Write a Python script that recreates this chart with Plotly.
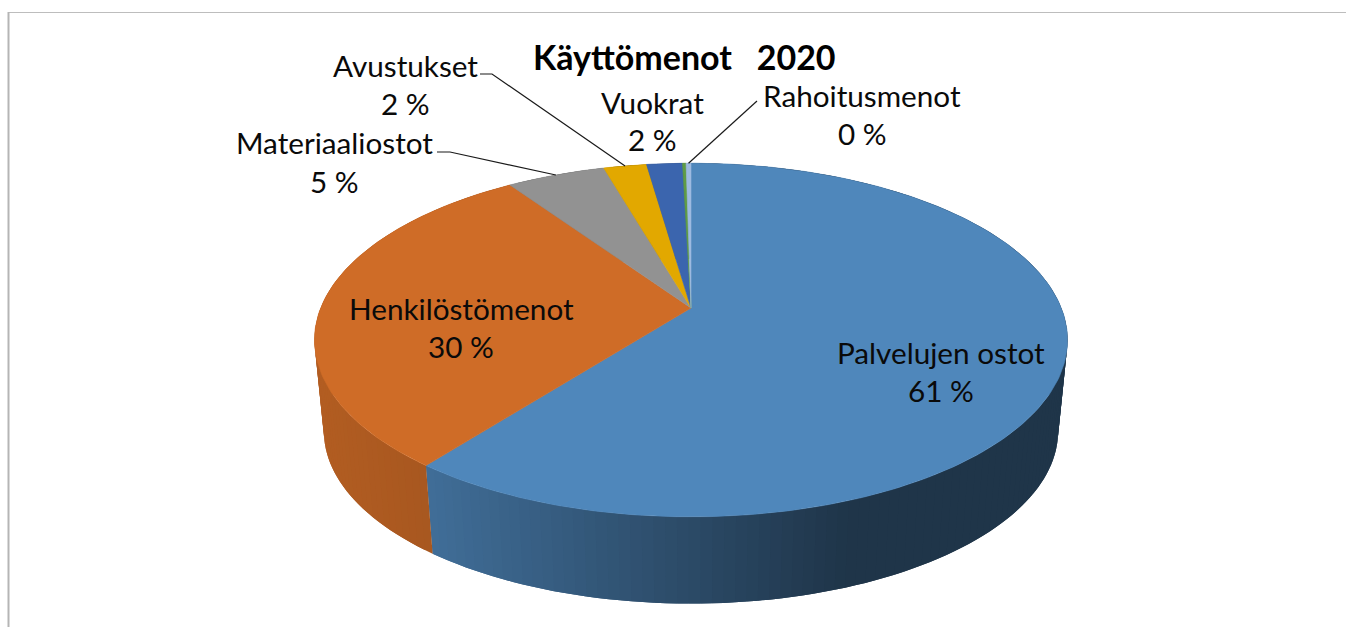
import math
import plotly.graph_objects as go

# ---- data ----
categories = ["Palvelujen ostot", "Henkilöstömenot", "Materiaaliostot", "Avustukset", "Vuokrat", "Muut", "Rahoitusmenot"]
values = [60.51, 29.99, 5.04, 2.2, 1.83, 0.18, 0.25]
colors = ["#4f87bb", "#cf6c27", "#929292", "#e2a800", "#3b65ae", "#5f9c45", "#9dbbe0"]
title_text = "Käyttömenot\u00a0\u00a0\u00a02020"

# ---- label placement: category -> (x, y of name line, y of percent line) ----
label_pos = {
    "Palvelujen ostot": (941, 352, 390),
    "Henkilöstömenot": (461, 308, 346),
    "Materiaaliostot": (334, 142, 181),
    "Avustukset": (405, 65, 103),
    "Vuokrat": (652, 102, 139),
    "Rahoitusmenot": (862, 95, 133),
}
leaders = {
    "Materiaaliostot": [(437, 152), (450, 152)],
    "Avustukset": [(480, 74), (492, 74)],
    "Rahoitusmenot": [(757, 101)],
}

# ---- perspective of the pie ----
CX, CY = 691.0, 308.0
K, A, B = 0.181, 171.0, 370.3
S, WALL_Y = 0.975, 400.0


def rim(turn, bottom=False):
    th = 2 * math.pi * turn
    u, v = math.sin(th), math.cos(th)
    w = 1 + K * v
    x, y = B * u / w, -A * v / w
    if bottom:
        return CX + S * x, WALL_Y + S * y
    return CX + x, CY + y


def wall_shade(x):
    stops = [(315, 0.86), (428, 0.81), (850, 0.39), (1068, 0.39)]
    for (x0, s0), (x1, s1) in zip(stops, stops[1:]):
        if x <= x1:
            return s0 + (s1 - s0) * max(0.0, x - x0) / (x1 - x0)
    return stops[-1][1]


def shaded(hex_color, f):
    r, g, b = (int(hex_color[i:i + 2], 16) for i in (1, 3, 5))
    return f"rgb({r * f:.0f},{g * f:.0f},{b * f:.0f})"


def poly(xs, ys, color, width=0.6):
    if width:
        return go.Scatter(x=xs, y=ys, mode="lines", fill="toself", fillcolor=color,
                          line=dict(color=color, width=width), hoverinfo="skip", showlegend=False)
    return go.Scatter(x=xs, y=ys, mode="none", fill="toself", fillcolor=color,
                      hoverinfo="skip", showlegend=False)


total = sum(values)
edges = [0.0]
for val in values:
    edges.append(edges[-1] + val / total)

fig = go.Figure()

# side walls, cut into narrow strips that overlap so no seams show
for i, col in enumerate(colors):
    a0, a1 = edges[i], edges[i + 1]
    n = max(1, round((a1 - a0) * 360 / 1.5))
    for j in range(n):
        t0 = a0 + (a1 - a0) * j / n
        t1 = min(a1, a0 + (a1 - a0) * (j + 2) / n)
        tm = a0 + (a1 - a0) * (j + 1) / n
        p = [rim(t0), rim(tm), rim(t1), rim(t1, True), rim(tm, True), rim(t0, True)]
        xm = (rim(t0)[0] + rim(tm)[0]) / 2
        xs = [q[0] for q in p] + [p[0][0]]
        ys = [q[1] for q in p] + [p[0][1]]
        fig.add_trace(poly(xs, ys, shaded(col, wall_shade(xm)), width=0))

# top surface
for i, col in enumerate(colors):
    a0, a1 = edges[i], edges[i + 1]
    n = max(2, round((a1 - a0) * 360))
    pts = [rim(a0 + (a1 - a0) * j / n) for j in range(n + 1)]
    xs = [CX] + [q[0] for q in pts] + [CX]
    ys = [CY] + [q[1] for q in pts] + [CY]
    fig.add_trace(poly(xs, ys, col))

# leader lines end on the rim at the middle of their slice
for name, pts in leaders.items():
    i = categories.index(name)
    end = rim((edges[i] + edges[i + 1]) / 2)
    fig.add_trace(go.Scatter(x=[q[0] for q in pts] + [end[0]], y=[q[1] for q in pts] + [end[1]],
                             mode="lines", line=dict(color="#1a1a1a", width=1.2),
                             hoverinfo="skip", showlegend=False))

FONT = "Lato, Carlito, Calibri, sans-serif"
ann = [dict(x=684, y=56, text=f"<b>{title_text}</b>", showarrow=False,
            font=dict(family=FONT, size=34, color="#000000"))]
for name, (x, y0, y1) in label_pos.items():
    pct = values[categories.index(name)] / total * 100
    ann.append(dict(x=x, y=y0, text=name, showarrow=False, font=dict(family=FONT, size=29.7, color="#0a0a0a")))
    ann.append(dict(x=x, y=y1, text=f"{pct:.0f} %", showarrow=False, font=dict(family=FONT, size=29.7, color="#0a0a0a")))

frame = dict(type="line", line=dict(color="#bdbdbd", width=1), xref="x", yref="y")
fig.update_layout(
    width=1346, height=627, margin=dict(l=0, r=0, t=0, b=0),
    paper_bgcolor="white", plot_bgcolor="white", showlegend=False,
    xaxis=dict(range=[0, 1346], visible=False, fixedrange=True),
    yaxis=dict(range=[627, 0], visible=False, fixedrange=True),
    annotations=ann,
    shapes=[
        dict(frame, x0=8, x1=1346, y0=12.5, y1=12.5),
        dict(type="line", xref="x", yref="y", x0=8.5, x1=8.5, y0=12, y1=627,
             line=dict(color="#b5b5b5", width=2)),
    ],
)
fig.write_html("out.html", config={"displayModeBar": False},
               post_script="document.body.style.margin='0';document.body.style.overflow='hidden';")
